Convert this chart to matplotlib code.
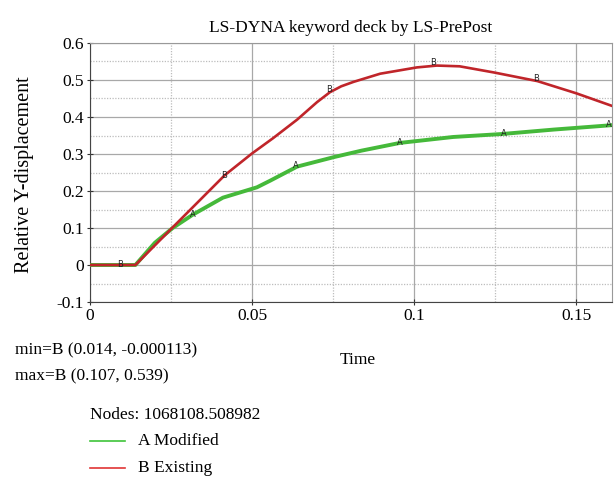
import matplotlib
matplotlib.use("Agg")
import matplotlib.pyplot as plt
from matplotlib.ticker import MultipleLocator

# ---- data ----
b_time = [0.0, 0.014, 0.0244, 0.0416, 0.0499, 0.0565, 0.0639, 0.0700, 0.0740, 0.0775, 0.0813, 0.0895, 0.1008, 0.107, 0.114, 0.1248, 0.138, 0.150, 0.161]
b_disp = [0.0, 0.0, 0.092, 0.243, 0.301, 0.343, 0.393, 0.440, 0.467, 0.483, 0.495, 0.517, 0.534, 0.539, 0.537, 0.520, 0.497, 0.464, 0.430]

a_time = [0.0, 0.014, 0.020, 0.0255, 0.0317, 0.041, 0.0515, 0.0556, 0.0639, 0.0754, 0.0837, 0.0956, 0.112, 0.127, 0.143, 0.1596, 0.161]
a_disp = [0.0, 0.0, 0.060, 0.100, 0.136, 0.182, 0.210, 0.228, 0.266, 0.292, 0.309, 0.330, 0.346, 0.354, 0.366, 0.377, 0.378]

b_mark_t = [0.0093, 0.0415, 0.0737, 0.1057, 0.1375]
b_mark_y = [0.001, 0.243, 0.474, 0.546, 0.503]
a_mark_t = [0.0317, 0.0635, 0.0955, 0.1275, 0.160]
a_mark_y = [0.136, 0.270, 0.332, 0.355, 0.380]

xticks = [0, 0.05, 0.1, 0.15]
xtick_labels = ["0", "0.05", "0.1", "0.15"]
yticks = [-0.1, 0, 0.1, 0.2, 0.3, 0.4, 0.5, 0.6]
ytick_labels = ["-0.1", "0", "0.1", "0.2", "0.3", "0.4", "0.5", "0.6"]

title = "LS-DYNA keyword deck by LS-PrePost"
series_names = ["A Modified", "B Existing"]

plt.rcParams['font.family'] = ['Liberation Serif', 'DejaVu Serif']

fig = plt.figure(figsize=(6.15, 4.84), dpi=100)
ax = fig.add_axes([90/615, 1-302/484, (612-90)/615, (302-43)/484])

ax.set_xlim(0, 0.161)
ax.set_ylim(-0.1, 0.6)
ax.xaxis.set_minor_locator(MultipleLocator(0.025))
ax.yaxis.set_minor_locator(MultipleLocator(0.05))
ax.grid(which='major', color='#a8a8a8', linewidth=0.9, linestyle='-')
ax.grid(which='minor', color='#bdbdbd', linewidth=0.9, linestyle=(0, (1, 1.2)))
ax.set_axisbelow(True)

ax.plot(a_time, a_disp, color='#45b93a', linewidth=2.8, zorder=3)
ax.plot(b_time, b_disp, color='#c0252a', linewidth=1.9, zorder=4)

for t, y in zip(a_mark_t, a_mark_y):
    ax.text(t, y, "A", fontsize=6, family='DejaVu Sans', ha='center', va='center', color='#222222', zorder=5)
for t, y in zip(b_mark_t, b_mark_y):
    ax.text(t, y, "B", fontsize=6, family='DejaVu Sans', ha='center', va='center', color='#222222', zorder=5)

ax.set_xticks(xticks)
ax.set_xticklabels(xtick_labels)
ax.set_yticks(yticks)
ax.set_yticklabels(ytick_labels)
ax.tick_params(which='major', labelsize=12.5, length=5, direction='inout', color='#333333', pad=2)
ax.tick_params(which='minor', length=0)

for s in ['top', 'right']:
    ax.spines[s].set_color('#999999')
for s in ['left', 'bottom']:
    ax.spines[s].set_color('#444444')

ax.set_title(title, fontsize=12.5, pad=8)
fig.text(25/615, 1-175/484, "Relative Y-displacement", fontsize=14.5, rotation=90, ha='center', va='center')

fig.text(358/615, 1-360/484, "Time", fontsize=12.5, ha='center', va='center')
fig.text(15/615, 1-350/484, "min=B (0.014, -0.000113)", fontsize=12.5, ha='left', va='center')
fig.text(15/615, 1-376/484, "max=B (0.107, 0.539)", fontsize=12.5, ha='left', va='center')
fig.text(90/615, 1-415/484, "Nodes: 1068108.508982", fontsize=12.5, ha='left', va='center')

leg_colors = ['#3ec43a', '#e03535']
for i, (name, c) in enumerate(zip(series_names, leg_colors)):
    yy = 1 - (441 + 27*i)/484
    fig.add_artist(plt.Line2D([90/615, 125/615], [yy, yy], color=c, linewidth=1.2, transform=fig.transFigure))
    fig.text(138/615, yy, name, fontsize=12.5, ha='left', va='center')

fig.savefig("out.png", dpi=100)
